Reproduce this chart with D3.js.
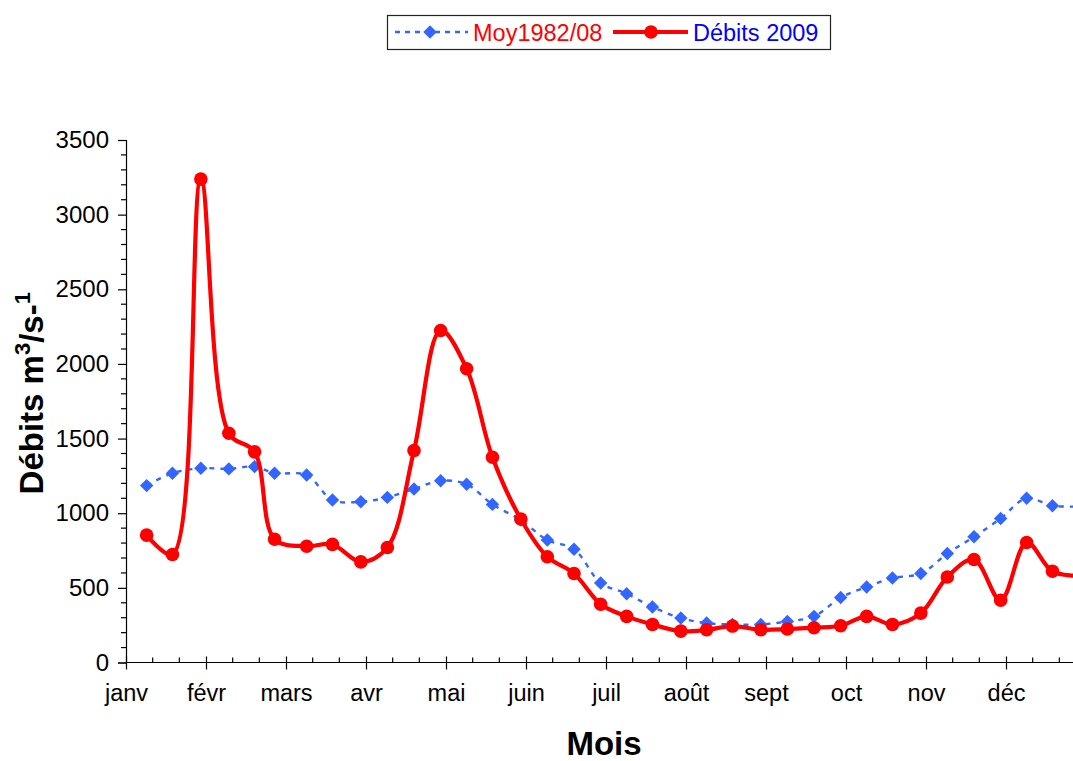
<!DOCTYPE html>
<html>
<head>
<meta charset="utf-8">
<script src="https://cdn.jsdelivr.net/npm/d3@7"></script>
<style>
  html, body { margin: 0; padding: 0; background: #fff; }
  svg { display: block; font-family: "Liberation Sans", Arial, sans-serif; }
</style>
</head>
<body>
<svg id="chart" width="1073" height="761"></svg>
<script>
// Month labels of the x axis
const months = ["janv", "févr", "mars", "avr", "mai", "juin", "juil", "août", "sept", "oct", "nov", "déc"];

// Three readings per month (days of the month)
const readingDays = [
  [8, 18, 29], [8, 17, 24], [8, 18, 29], [8, 18, 28],
  [8, 18, 29], [8, 18, 28], [8, 18, 29], [8, 18, 29],
  [8, 18, 28], [8, 18, 29], [8, 18, 28], [8, 18, 29]
];
const daysInMonth = [31, 28, 31, 30, 31, 30, 31, 31, 30, 31, 30, 31];

// Mean discharge 1982-2008 (m3/s)
const moy1982_08 = [
  1185, 1268, 1301,
  1297, 1312, 1268,
  1256, 1088, 1077,
  1106, 1162, 1218,
  1194, 1059, 954,
  820, 759, 533,
  461, 372, 298,
  264, 255, 255,
  275, 309, 435,
  506, 566, 596,
  730, 842, 965,
  1100, 1050, 1045
];

// Discharge 2009 (m3/s)
const debits2009 = [
  853, 723, 3238,
  1536, 1411, 826,
  779, 791, 674,
  770, 1420, 2224,
  1968, 1375, 961,
  708, 596, 390,
  309, 255, 210,
  219, 244, 219,
  224, 233, 246,
  309, 255, 331,
  573, 690, 417,
  804, 611, 580
];

const yTicks = [0, 500, 1000, 1500, 2000, 2500, 3000, 3500];

const legendLabels = ["Moy1982/08", "Débits 2009"];

// ---------------------------------------------------------------
const svg = d3.select("#chart");
const W = 1073, H = 761;
const plotLeft = 126, plotTop = 140, plotBottom = 662.5;
const monthWidth = 80;

// position of a reading, in months from the start of the year
const monthPos = [];
readingDays.forEach((days, m) => days.forEach(d => monthPos.push(m + d / daysInMonth[m])));

const x = d3.scaleLinear().domain([0, 12]).range([plotLeft, plotLeft + 12 * monthWidth]);
const y = d3.scaleLinear().domain([0, 3500]).range([plotBottom, plotTop]);

const blue = "#3366FF", red = "#FF0000";

// ---- Y axis
const yAxis = d3.axisLeft(y).tickValues(yTicks).tickSize(8).tickPadding(9).tickFormat(d3.format("d"));
const gy = svg.append("g").attr("transform", `translate(${plotLeft},0)`).call(yAxis);
gy.select(".domain").attr("stroke", "#000").attr("stroke-width", 1.2);
gy.selectAll(".tick line").attr("stroke", "#000").attr("stroke-width", 1.2);
gy.selectAll(".tick text").attr("font-size", 24).attr("fill", "#000")
  .attr("font-family", "'Liberation Sans', Arial, sans-serif");
// minor ticks every 100
const yMinor = d3.range(0, 3501, 100).filter(v => v % 500 !== 0);
svg.append("g").selectAll("line").data(yMinor).join("line")
  .attr("x1", plotLeft - 5).attr("x2", plotLeft)
  .attr("y1", d => y(d)).attr("y2", d => y(d))
  .attr("stroke", "#000").attr("stroke-width", 1.2);

// ---- X axis
const xAxis = d3.axisBottom(x).tickValues(d3.range(0, 12)).tickSize(7).tickPadding(15)
  .tickFormat(i => months[i]);
const gx = svg.append("g").attr("transform", `translate(0,${plotBottom})`).call(xAxis);
gx.select(".domain").attr("stroke", "#000").attr("stroke-width", 1.2).attr("d", `M${plotLeft},0H${W + 20}`);
gx.selectAll(".tick line").attr("y1", -6).attr("stroke", "#000").attr("stroke-width", 1.2);
gx.selectAll(".tick text").attr("font-size", 23.5).attr("fill", "#000")
  .attr("font-family", "'Liberation Sans', Arial, sans-serif");
// minor ticks at thirds of a month (inside)
const xMinor = d3.range(0, 36).map(i => i / 3).filter(v => Math.abs(v - Math.round(v)) > 1e-6);
svg.append("g").selectAll("line").data(xMinor).join("line")
  .attr("x1", d => x(d)).attr("x2", d => x(d))
  .attr("y1", plotBottom - 5).attr("y2", plotBottom)
  .attr("stroke", "#000").attr("stroke-width", 1.2);

// ---- Series
const curve = d3.curveCatmullRom.alpha(0.5);
const blueData = moy1982_08.map((v, i) => [monthPos[i], v]);
const redData = debits2009.map((v, i) => [monthPos[i], v]);
const line = d3.line().x(d => x(d[0])).y(d => y(d[1])).curve(curve);

svg.append("path").datum(blueData).attr("d", line)
  .attr("fill", "none").attr("stroke", blue).attr("stroke-width", 2.4)
  .attr("stroke-dasharray", "5,6");

const diamond = d3.symbol().type(d3.symbolDiamond2).size(115);
svg.append("g").selectAll("path").data(blueData).join("path")
  .attr("d", diamond)
  .attr("transform", d => `translate(${x(d[0])},${y(d[1])})`)
  .attr("fill", blue);

svg.append("path").datum(redData).attr("d", line)
  .attr("fill", "none").attr("stroke", red).attr("stroke-width", 4.2)
  .attr("stroke-linejoin", "round");

svg.append("g").selectAll("circle").data(redData).join("circle")
  .attr("cx", d => x(d[0])).attr("cy", d => y(d[1])).attr("r", 6.8)
  .attr("fill", red);

// ---- Axis titles
svg.append("text")
  .attr("x", x(6) - 2).attr("y", 755)
  .attr("text-anchor", "middle").attr("font-size", 33).attr("font-weight", "bold")
  .text("Mois");

const yt = svg.append("text")
  .attr("transform", `translate(43,${(plotTop + plotBottom) / 2 - 8}) rotate(-90)`)
  .attr("text-anchor", "middle").attr("font-size", 33).attr("font-weight", "bold");
yt.append("tspan").text("Débits m");
yt.append("tspan").attr("font-size", 22).attr("dy", -13).text("3");
yt.append("tspan").attr("dy", 13).text("/s-");
yt.append("tspan").attr("font-size", 22).attr("dy", -13).text("1");

// ---- Legend
const lg = svg.append("g");
lg.append("rect").attr("x", 387.5).attr("y", 15.5).attr("width", 443).attr("height", 34)
  .attr("fill", "#fff").attr("stroke", "#222").attr("stroke-width", 1.2);
const ly = 32;
lg.append("line").attr("x1", 395).attr("x2", 468).attr("y1", ly).attr("y2", ly)
  .attr("stroke", blue).attr("stroke-width", 2.4).attr("stroke-dasharray", "5,5");
lg.append("path").attr("d", diamond).attr("transform", `translate(430,${ly})`).attr("fill", blue);
lg.append("text").attr("x", 473).attr("y", 41).attr("font-size", 23.5).attr("fill", red).text(legendLabels[0]);
lg.append("line").attr("x1", 613).attr("x2", 688).attr("y1", ly).attr("y2", ly)
  .attr("stroke", red).attr("stroke-width", 4.2);
lg.append("circle").attr("cx", 651).attr("cy", ly).attr("r", 6.8).attr("fill", red);
lg.append("text").attr("x", 693).attr("y", 41).attr("font-size", 23.5).attr("fill", "#0000FF").text(legendLabels[1]);
</script>
</body>
</html>
